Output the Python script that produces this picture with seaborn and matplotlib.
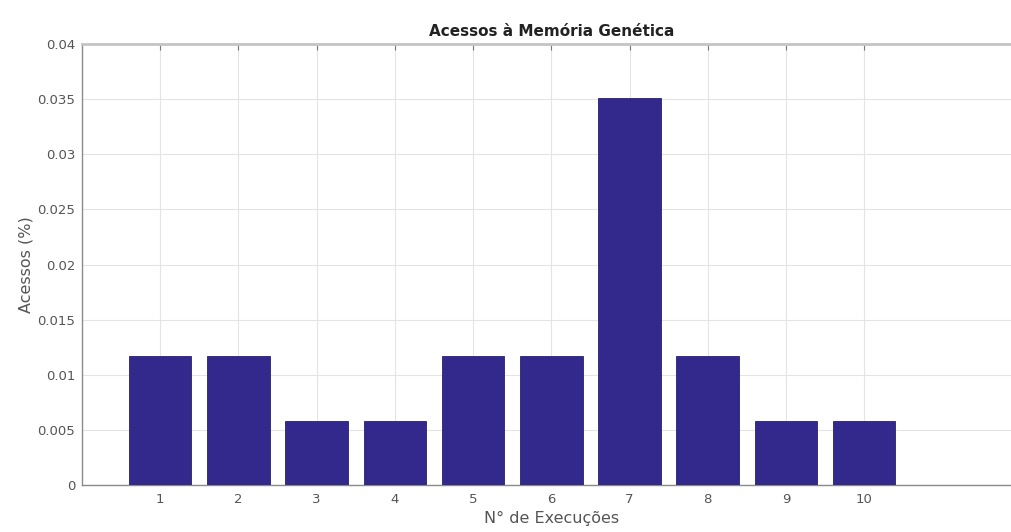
import matplotlib
matplotlib.use("Agg")
import matplotlib.pyplot as plt
import seaborn as sns
import pandas as pd

# Accesses to the genetic memory per run
execucoes = [1, 2, 3, 4, 5, 6, 7, 8, 9, 10]
acessos = [0.0117, 0.0117, 0.00585, 0.00585, 0.0117, 0.0117, 0.0351, 0.0117, 0.00585, 0.00585]
y_ticks = [0, 0.005, 0.01, 0.015, 0.02, 0.025, 0.03, 0.035, 0.04]
y_tick_labels = ["0", "0.005", "0.01", "0.015", "0.02", "0.025", "0.03", "0.035", "0.04"]

df = pd.DataFrame({"execucao": execucoes, "acessos": acessos})

sns.set_theme(style="white")
plt.rcParams["font.family"] = ["DejaVu Sans"]

fig = plt.figure(figsize=(10.11, 5.32), dpi=100)
ax = fig.add_axes([0.0811, 0.0883, 0.9284, 0.829])

sns.barplot(data=df, x="execucao", y="acessos", native_scale=True, width=0.8,
            color="#33288c", saturation=1, edgecolor="#2a2070", linewidth=0.6,
            ax=ax, zorder=3)

ax.set_xlim(0, 12)
ax.set_ylim(0, 0.04)
ax.set_xticks(execucoes)
ax.set_xticklabels([str(v) for v in execucoes])
ax.set_yticks(y_ticks)
ax.set_yticklabels(y_tick_labels)

ax.grid(True, color="#e4e4e4", linewidth=0.8, zorder=0)
ax.set_axisbelow(True)

for side in ["left", "bottom", "top", "right"]:
    ax.spines[side].set_color("#8a8a8a")
    ax.spines[side].set_linewidth(1.0)
ax.spines["top"].set_linewidth(2.0)
ax.spines["top"].set_color("#c4c4c4")

ax.tick_params(axis="both", direction="in", length=4, width=0.8, color="#777777",
               labelsize=9.5, labelcolor="#555555", top=True, right=True)
ax.tick_params(axis="x", pad=6)
ax.tick_params(axis="y", pad=5)

ax.set_title("Acessos à Memória Genética", fontsize=11, fontweight="bold",
             color="#222222", pad=6)
ax.set_xlabel("N° de Execuções", fontsize=11.5, color="#555555", labelpad=3)
ax.set_ylabel("Acessos (%)", fontsize=11.5, color="#555555", labelpad=3)

fig.savefig("out.png", dpi=100)
